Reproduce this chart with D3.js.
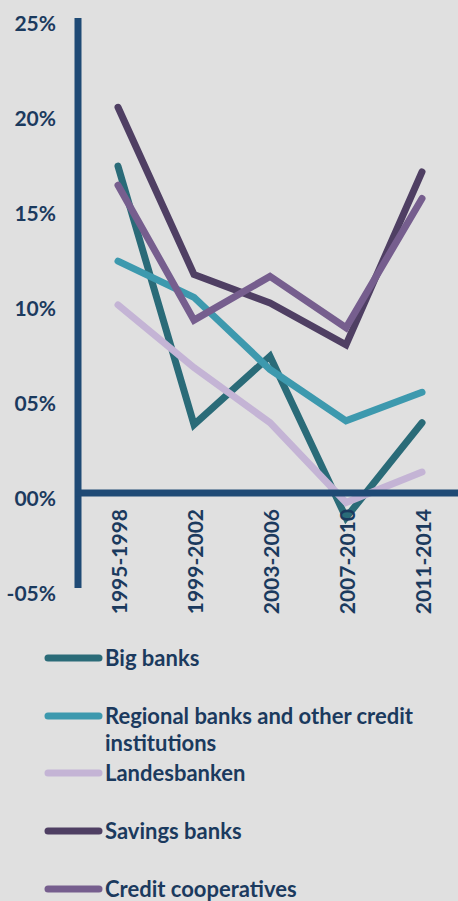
<!DOCTYPE html>
<html><head><meta charset="utf-8">
<script src="https://cdn.jsdelivr.net/npm/d3@7"></script>
<style>
html,body{margin:0;padding:0;background:#e0e0e0;}
svg{display:block;}
text{font-family:Lato,"Open Sans",sans-serif;font-weight:700;fill:#1b3a5e;}
</style></head>
<body>
<svg id="c" width="458" height="901"></svg>
<script>
const categories = ["1995-1998","1999-2002","2003-2006","2007-2010","2011-2014"];
const yTicks = [-5,0,5,10,15,20,25];
const yTickLabels = ["-05%","00%","05%","10%","15%","20%","25%"];
const seriesNames = ["Big banks","Regional banks and other credit institutions","Landesbanken","Savings banks","Credit cooperatives"];
const bigBanks = [17.2, 3.6, 7.2, -1.3, 3.7];
const regionalBanks = [12.2, 10.3, 6.5, 3.8, 5.3];
const landesbanken = [9.9, 6.6, 3.7, -0.5, 1.1];
const savingsBanks = [20.3, 11.5, 10.0, 7.8, 16.9];
const creditCoops = [16.2, 9.1, 11.4, 8.7, 15.5];
const colors = ["#2a6b78","#3d99ae","#c4b4d5","#4f3f63","#765e8e"];

const series = [bigBanks, regionalBanks, landesbanken, savingsBanks, creditCoops];
const svg = d3.select("#c");
const axisColor = "#1f4a75";

const x = d3.scalePoint().domain(categories).range([80, 460]).padding(0.5);
const y = d3.scaleLinear().domain([-5, 25]).range([588, 18]);

// y axis labels
svg.append("g").selectAll("text").data(yTicks).join("text")
  .attr("x", 56).attr("y", d => y(d) + 4)
  .attr("text-anchor", "end").attr("dominant-baseline", "central")
  .style("font-size", "21px")
  .text((d, i) => yTickLabels[i]);

// lines
const line = d3.line().x((d, i) => x(categories[i])).y(d => y(d));
svg.append("g").selectAll("path").data(series).join("path")
  .attr("d", d => line(d))
  .attr("fill", "none")
  .attr("stroke", (d, i) => colors[i])
  .attr("stroke-width", 7)
  .attr("stroke-linecap", "round")
  .attr("stroke-linejoin", "miter");

// axes
svg.append("line").attr("x1", 78).attr("x2", 78).attr("y1", y(25)).attr("y2", y(-5))
  .attr("stroke", axisColor).attr("stroke-width", 7);
svg.append("line").attr("x1", 75).attr("x2", 458).attr("y1", y(0)).attr("y2", y(0))
  .attr("stroke", axisColor).attr("stroke-width", 7);

// x labels
svg.append("g").selectAll("text").data(categories).join("text")
  .attr("transform", d => `translate(${x(d)},509) rotate(-90)`)
  .attr("text-anchor", "end").attr("dominant-baseline", "central")
  .style("font-size", "21px")
  .text(d => d);

// legend
const legY = [658, 716, 773, 831, 889];
const lg = svg.append("g");
seriesNames.forEach((name, i) => {
  lg.append("line").attr("x1", 48).attr("x2", 99).attr("y1", legY[i]).attr("y2", legY[i])
    .attr("stroke", colors[i]).attr("stroke-width", 7).attr("stroke-linecap", "round");
  const t = lg.append("text").attr("x", 105).attr("y", legY[i] + 8).style("font-size", "22px");
  if (i === 1) {
    t.append("tspan").attr("x", 105).text("Regional banks and other credit");
    t.append("tspan").attr("x", 105).attr("dy", 27).text("institutions");
  } else {
    t.text(name);
  }
});
</script>
</body></html>
